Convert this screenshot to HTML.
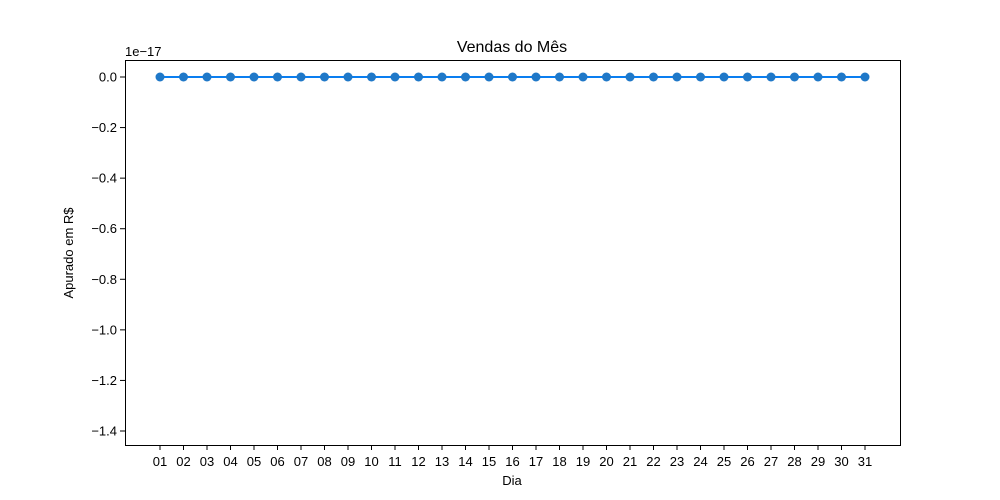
<!DOCTYPE html>
<html><head><meta charset="utf-8"><style>body{margin:0;background:#fff}svg{display:block;font-family:"Liberation Sans","DejaVu Sans",sans-serif}</style></head>
<body>
<svg id="chart" width="1000" height="500" xmlns="http://www.w3.org/2000/svg">
<rect width="1000" height="500" fill="#fff"/>
<text x="512" y="52" font-size="16" text-anchor="middle">Vendas do Mês</text>
<text x="125" y="56" font-size="13">1e−17</text>
<text x="512" y="485" font-size="13" text-anchor="middle">Dia</text>
<text transform="translate(73,253) rotate(-90)" font-size="13" text-anchor="middle">Apurado em R$</text>
<g id="ticks"></g>
<g id="marks"></g>
<rect x="125.5" y="60.5" width="775" height="385" fill="none" stroke="#000" stroke-width="1"/>
</svg>
<script>
const categories = ["01","02","03","04","05","06","07","08","09","10","11","12","13","14","15","16","17","18","19","20","21","22","23","24","25","26","27","28","29","30","31"];
const values = [0,0,0,0,0,0,0,0,0,0,0,0,0,0,0,0,0,0,0,0,0,0,0,0,0,0,0,0,0,0,0];
const yTicks = [0,-0.2,-0.4,-0.6,-0.8,-1.0,-1.2,-1.4];
const yTickLabels = ["0.0","−0.2","−0.4","−0.6","−0.8","−1.0","−1.2","−1.4"];
const NS="http://www.w3.org/2000/svg";
const xs=i=>160+i*(865-160)/30;
const ys=v=>77-v*(431-77)/1.4;
const tg=document.getElementById('ticks'), mg=document.getElementById('marks');
function mk(t,a,p){const e=document.createElementNS(NS,t);for(const k in a)e.setAttribute(k,a[k]);p.appendChild(e);return e;}
categories.forEach((c,i)=>{
  const x=xs(i);
  const l=mk('line',{x1:x,x2:x,y1:445,y2:450,stroke:'#000'},tg);
  
  
  const t=mk('text',{x:x,y:466,'font-size':13,'text-anchor':'middle'},tg);t.textContent=c;
  
  
});
yTicks.forEach((v,i)=>{
  const y=ys(v);
  const l=mk('line',{x1:120,x2:125,y1:y,y2:y,stroke:'#000'},tg);
  
  
  const t=mk('text',{x:117,y:y+4.5,'font-size':13,'text-anchor':'end'},tg);t.textContent=yTickLabels[i];
  
  
});
const pl=mk('polyline',{points:values.map((v,i)=>xs(i)+','+ys(v)).join(' '),fill:'none',stroke:'#0a7ef0','stroke-width':2},mg);


values.forEach((v,i)=>{
  const c=mk('circle',{cx:xs(i),cy:ys(v),r:4.5,fill:'#1f78c8'},mg);
  
  
});
</script>
</body></html>
